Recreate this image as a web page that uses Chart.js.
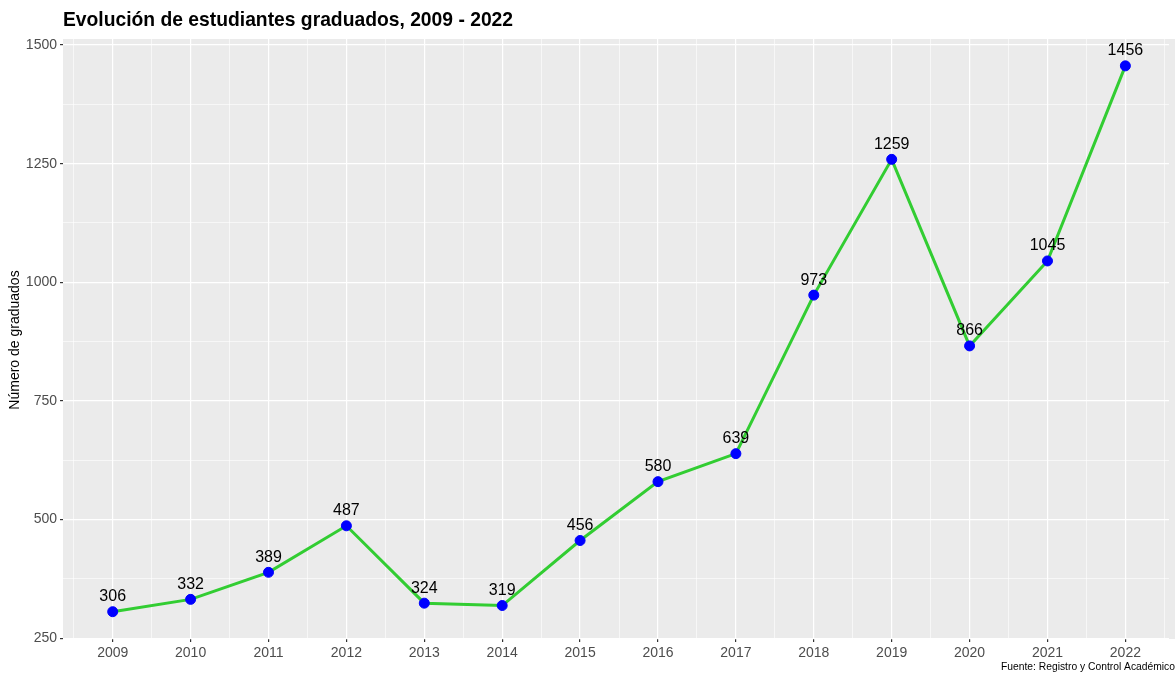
<!DOCTYPE html>
<html>
<head>
<meta charset="utf-8">
<script src="https://cdn.jsdelivr.net/npm/chart.js@4.4.1/dist/chart.umd.min.js"></script>
<style>
  html, body { margin: 0; padding: 0; background: #fff; }
  #wrap { width: 1175px; height: 674px; }
</style>
</head>
<body>
<div id="wrap"><canvas id="gradChart" width="1175" height="674"></canvas></div>
<script>
// data
const years = [2009, 2010, 2011, 2012, 2013, 2014, 2015, 2016, 2017, 2018, 2019, 2020, 2021, 2022];
const graduates = [306, 332, 389, 487, 324, 319, 456, 580, 639, 973, 1259, 866, 1045, 1456];
const yTicks = [250, 375, 500, 625, 750, 875, 1000, 1125, 1250, 1375, 1500];
const yMajor = [250, 500, 750, 1000, 1250, 1500];

const FONT = '"Liberation Sans", Arial, sans-serif';

// grey ggplot panel + custom text
const ggPanel = {
  id: 'ggPanel',
  beforeDraw(chart) {
    const { ctx, chartArea: a } = chart;
    ctx.save();
    ctx.fillStyle = '#EBEBEB';
    ctx.fillRect(a.left, a.top, 1175 - a.left, a.bottom - a.top);
    ctx.restore();
  },
  afterDraw(chart) {
    const { ctx } = chart;
    ctx.save();
    // title
    ctx.fillStyle = '#000';
    ctx.font = 'bold 19.3px ' + FONT;
    ctx.textBaseline = 'middle';
    ctx.textAlign = 'left';
    ctx.fillText('Evolución de estudiantes graduados, 2009 - 2022', 63, 21);
    // y axis title
    ctx.font = '14px ' + FONT;
    ctx.translate(15, 340);
    ctx.rotate(-Math.PI / 2);
    ctx.textAlign = 'center';
    ctx.fillText('Número de graduados', 0, 0);
    ctx.restore();
    // caption
    ctx.save();
    ctx.font = '10.3px ' + FONT;
    ctx.fillStyle = '#000';
    ctx.textAlign = 'right';
    ctx.textBaseline = 'middle';
    ctx.fillText('Fuente: Registro y Control Académico', 1175, 667);
    // value labels above points
    const meta = chart.getDatasetMeta(0);
    ctx.font = '16px ' + FONT;
    ctx.textAlign = 'center';
    meta.data.forEach((pt, i) => {
      ctx.fillText(String(graduates[i]), pt.x, pt.y - 15);
    });
    ctx.restore();
  }
};

const isYear = v => Math.abs(v - Math.round(v)) < 1e-6;

new Chart(document.getElementById('gradChart'), {
  type: 'line',
  data: {
    datasets: [{
      data: years.map((y, i) => ({ x: y, y: graduates[i] })),
      borderColor: '#32CD32',
      borderWidth: 3,
      pointBackgroundColor: '#0000FF',
      pointBorderColor: '#0000FF',
      pointRadius: 5,
      pointBorderWidth: 1,
      tension: 0
    }]
  },
  plugins: [ggPanel],
  options: {
    responsive: false,
    animation: false,
    layout: { padding: { left: 0, right: 0, top: 39, bottom: 0 } },
    plugins: {
      legend: { display: false },
      tooltip: { enabled: false }
    },
    scales: {
      x: {
        type: 'linear',
        min: 2008.362,
        max: 2022.56,
        afterBuildTicks(scale) {
          const t = [];
          for (let v = 2008.5; v <= 2022.5; v += 0.5) t.push({ value: v });
          scale.ticks = t;
        },
        afterFit(scale) { scale.height = 35; },
        border: { display: false },
        grid: {
          color: '#FFFFFF',
          lineWidth: c => isYear(c.tick.value) ? 1.2 : 0.6,
          tickColor: c => isYear(c.tick.value) ? '#333333' : 'rgba(0,0,0,0)',
          tickLength: 3,
          drawTicks: true
        },
        ticks: {
          autoSkip: false,
          maxRotation: 0,
          padding: 3,
          color: '#4D4D4D',
          font: { family: FONT, size: 14 },
          callback: v => isYear(v) ? String(Math.round(v)) : ''
        }
      },
      y: {
        min: 248.5,
        max: 1512.6,
        afterBuildTicks(scale) {
          scale.ticks = yTicks.map(v => ({ value: v }));
        },
        afterFit(scale) { scale.width = 63; },
        border: { display: false },
        grid: {
          color: '#FFFFFF',
          lineWidth: c => yMajor.includes(c.tick.value) ? 1.2 : 0.6,
          tickColor: c => yMajor.includes(c.tick.value) ? '#333333' : 'rgba(0,0,0,0)',
          tickLength: 3
        },
        ticks: {
          autoSkip: false,
          padding: 3,
          color: '#4D4D4D',
          font: { family: FONT, size: 14 },
          callback: v => yMajor.includes(v) ? String(v) : ''
        }
      }
    }
  }
});
</script>
</body>
</html>
